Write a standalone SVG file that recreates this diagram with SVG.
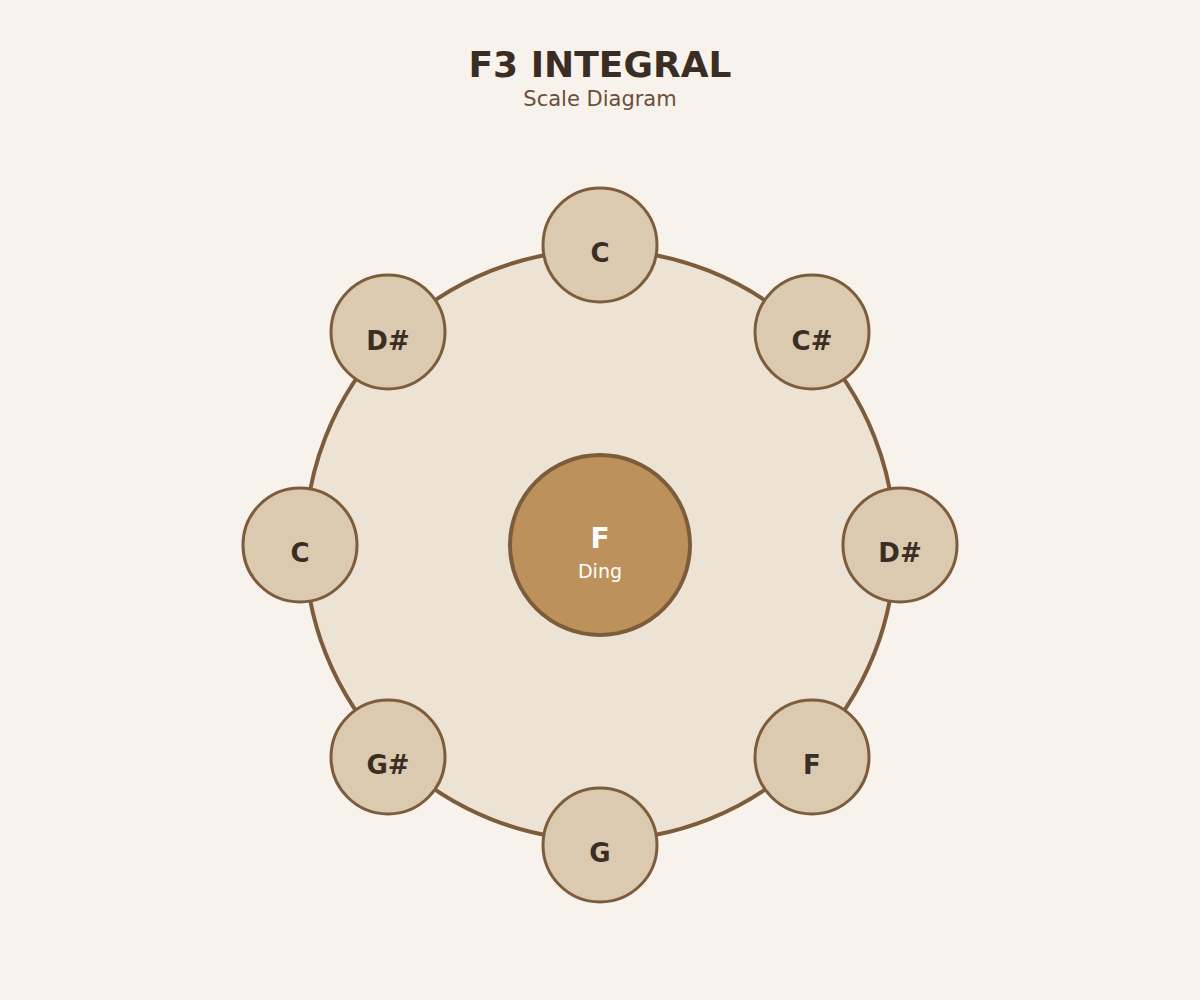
<svg xmlns="http://www.w3.org/2000/svg" width="1200" height="1000" viewBox="0 0 1200 1000">
<style>
.note circle{fill:#dbcab0;stroke:#7d5c3b;stroke-width:3}
.note text{font-family:"DejaVu Sans",sans-serif;font-weight:bold;font-size:26px;fill:#3a2e24;text-anchor:middle}
</style>
<rect width="1200" height="1000" fill="#f7f2ec"/>
<text x="600" y="77" text-anchor="middle" font-family="DejaVu Sans,sans-serif" font-weight="bold" font-size="36" fill="#3a2e24">F3 INTEGRAL</text>
<text x="600" y="106" text-anchor="middle" font-family="DejaVu Sans,sans-serif" font-size="21" fill="#6b4f3a">Scale Diagram</text>
<g id="body"><circle cx="600" cy="545" r="295" fill="#ede3d4" stroke="#7d5c3b" stroke-width="4"/></g>
<g id="ding"><circle cx="600" cy="545" r="90" fill="#bc915c" stroke="#7d5c3b" stroke-width="4"/>
<text x="600" y="548" text-anchor="middle" font-family="DejaVu Sans,sans-serif" font-weight="bold" font-size="28" fill="#fff">F</text>
<text x="600" y="578" text-anchor="middle" font-family="DejaVu Sans,sans-serif" font-size="19" fill="#fff">Ding</text></g>
<g id="connectors"/>
<g id="n1" class="note"><circle cx="600" cy="245" r="57"/><text x="600" y="262">C</text></g>
<g id="n2" class="note"><circle cx="812" cy="332" r="57"/><text x="812" y="350">C#</text></g>
<g id="n3" class="note"><circle cx="900" cy="545" r="57"/><text x="900" y="562">D#</text></g>
<g id="n4" class="note"><circle cx="812" cy="757" r="57"/><text x="812" y="774">F</text></g>
<g id="n5" class="note"><circle cx="600" cy="845" r="57"/><text x="600" y="862">G</text></g>
<g id="n6" class="note"><circle cx="388" cy="757" r="57"/><text x="388" y="774">G#</text></g>
<g id="n7" class="note"><circle cx="300" cy="545" r="57"/><text x="300" y="562">C</text></g>
<g id="n8" class="note"><circle cx="388" cy="332" r="57"/><text x="388" y="350">D#</text></g>
</svg>
